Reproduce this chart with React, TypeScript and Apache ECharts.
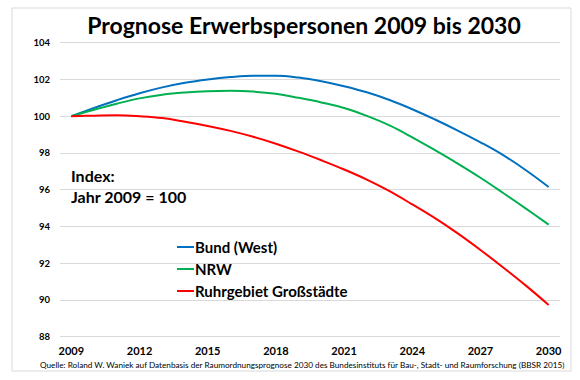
import React, { useEffect, useRef } from "react";
import * as echarts from "echarts";

const years = ["2009","2010","2011","2012","2013","2014","2015","2016","2017","2018","2019","2020","2021","2022","2023","2024","2025","2026","2027","2028","2029","2030"];
const bundWest = [100, 100.45, 100.87, 101.25, 101.57, 101.82, 102.0, 102.13, 102.2, 102.2, 102.1, 101.9, 101.63, 101.3, 100.88, 100.38, 99.82, 99.22, 98.58, 97.88, 97.06, 96.15];
const nrw = [100, 100.35, 100.68, 100.97, 101.17, 101.29, 101.36, 101.38, 101.34, 101.22, 101.0, 100.75, 100.45, 100.02, 99.5, 98.85, 98.15, 97.42, 96.65, 95.82, 94.97, 94.1];
const ruhr = [100, 100.03, 100.05, 100.0, 99.9, 99.7, 99.47, 99.2, 98.88, 98.5, 98.07, 97.6, 97.1, 96.55, 95.92, 95.2, 94.45, 93.62, 92.72, 91.77, 90.78, 89.73];
const seriesNames = ["Bund (West)", "NRW", "Ruhrgebiet Großstädte"];
const titleText = "Prognose Erwerbspersonen 2009 bis 2030";
const sourceText = "Quelle: Roland W. Waniek auf Datenbasis der Raumordnungsprognose 2030 des Bundesinstituts für Bau-, Stadt- und Raumforschung (BBSR 2015)";
const indexLines = ["Index:", "Jahr 2009 = 100"];

const FONT = "Lato, 'Open Sans', sans-serif";

export default function App() {
  const ref = useRef<HTMLDivElement>(null);
  useEffect(() => {
    if (!ref.current) return;
    const chart = echarts.init(ref.current, null, { renderer: "svg" });
    const colors = ["#0070C0", "#00B050", "#FF0000"];
    const data = [bundWest, nrw, ruhr];
    chart.setOption({
      animation: false,
      backgroundColor: "#ffffff",
      textStyle: { fontFamily: FONT },
      title: {
        text: titleText,
        left: 299,
        textAlign: "center",
        top: 8,
        textStyle: { fontFamily: FONT, fontWeight: "bold", fontSize: 23, color: "#000" },
      },
      grid: { left: 60, right: 20, top: 42.7, bottom: 43.3, containLabel: false },
      legend: {
        orient: "vertical",
        left: 172,
        top: 234,
        icon: "rect",
        itemWidth: 17,
        itemHeight: 2,
        itemGap: 6,
        data: seriesNames,
        textStyle: { fontFamily: FONT, fontWeight: "bold", fontSize: 15, color: "#000", lineHeight: 16, padding: [0, 0, 0, -4] },
      },
      xAxis: {
        type: "category",
        data: years,
        boundaryGap: true,
        axisLine: { show: false },
        axisTick: { show: false },
        axisLabel: { interval: 2, fontFamily: FONT, fontWeight: "bold", fontSize: 11, color: "#000", margin: 8 },
        splitLine: { show: false },
      },
      yAxis: {
        type: "value",
        min: 88,
        max: 104,
        interval: 2,
        axisLine: { show: false },
        axisTick: { show: false },
        axisLabel: { fontFamily: FONT, fontWeight: "bold", fontSize: 9.5, color: "#000", margin: 10 },
        splitLine: { lineStyle: { color: "#d9d9d9", width: 1 } },
      },
      series: seriesNames.map((n, i) => ({
        name: n,
        type: "line",
        data: data[i],
        smooth: 0.4,
        showSymbol: false,
        symbol: "none",
        lineStyle: { color: colors[i], width: 2 },
        itemStyle: { color: colors[i] },
      })),
      graphic: [
        {
          type: "rect",
          shape: { x: 12, y: 8, width: 559, height: 363 },
          style: { fill: "none", stroke: "#d9d9d9", lineWidth: 1 },
          z: -1,
        },
        {
          type: "text",
          left: 71,
          top: 167,
          style: { text: indexLines[0], fontFamily: FONT, fontWeight: "bold", fontSize: 16, fill: "#000" },
        },
        {
          type: "text",
          left: 71,
          top: 188,
          style: { text: indexLines[1], fontFamily: FONT, fontWeight: "bold", fontSize: 16, fill: "#000" },
        },
        {
          type: "text",
          left: 40,
          top: 360.5,
          style: { text: sourceText, fontFamily: FONT, fontSize: 8.2, fill: "#000" },
        },
      ],
    });
    return () => chart.dispose();
  }, []);
  return <div ref={ref} style={{ position: "fixed", left: 0, top: 0, width: 580, height: 380 }} />;
}
